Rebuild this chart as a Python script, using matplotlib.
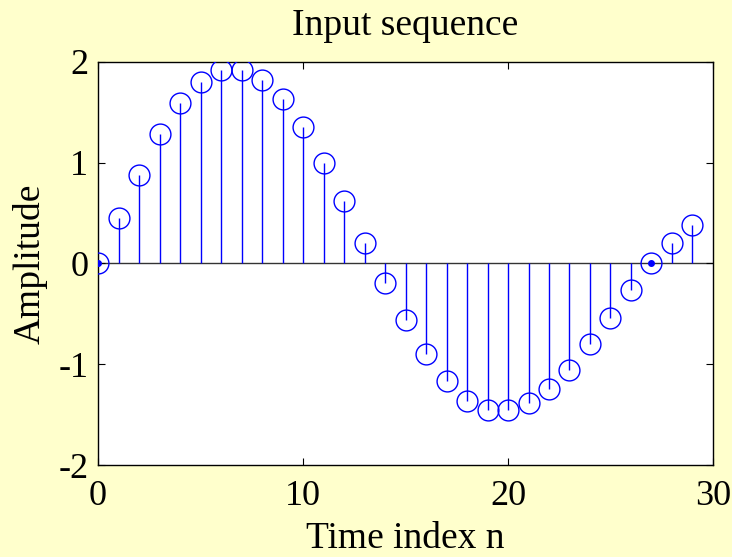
import matplotlib
matplotlib.use("Agg")
import matplotlib.pyplot as plt

n = list(range(30))
amplitude = [0.0, 0.455, 0.88, 1.285, 1.59, 1.80, 1.915, 1.915, 1.82, 1.63,
             1.35, 1.0, 0.62, 0.2, -0.19, -0.565, -0.895, -1.17, -1.36, -1.45,
             -1.45, -1.38, -1.245, -1.055, -0.80, -0.545, -0.26, 0.0, 0.2, 0.385]
dot_n = [0, 27]
dot_y = [0.0, 0.0]

xticks = [0, 10, 20, 30]
yticks = [-2, -1, 0, 1, 2]

plt.rcParams['font.family'] = ['Liberation Serif', 'DejaVu Serif']

fig = plt.figure(figsize=(7.32, 5.57), dpi=100, facecolor='#ffffcc')
ax = fig.add_axes([0.134, 0.165, 0.840, 0.724])
ax.set_facecolor('white')

ax.axhline(0, color='#333333', lw=1.0, zorder=1)
ax.vlines(n, 0, amplitude, colors='#0000ff', lw=1.0, zorder=2)
ax.plot(n, amplitude, linestyle='none', marker='o', markersize=15,
        markerfacecolor='none', markeredgecolor='#0000ff', markeredgewidth=1.0, zorder=3)
ax.plot(dot_n, dot_y, linestyle='none', marker='o', markersize=4,
        color='#0000ff', zorder=4)

ax.set_xlim(0, 30)
ax.set_ylim(-2, 2)
ax.set_xticks(xticks)
ax.set_yticks(yticks)
ax.set_xticklabels([str(t) for t in xticks])
ax.set_yticklabels([str(t) for t in yticks])
ax.tick_params(direction='in', length=5, width=0.8, top=True, right=True,
               labelsize=26, colors='black')
ax.tick_params(axis='x', pad=11)
ax.tick_params(axis='y', pad=7)
for s in ax.spines.values():
    s.set_linewidth(1.0)
    s.set_color('black')

ax.set_title('Input sequence', fontsize=27, pad=19)
ax.set_xlabel('Time index n', fontsize=27, labelpad=6)
ax.set_ylabel('Amplitude', fontsize=27, labelpad=8)

fig.savefig('out.png', dpi=100, facecolor=fig.get_facecolor())
